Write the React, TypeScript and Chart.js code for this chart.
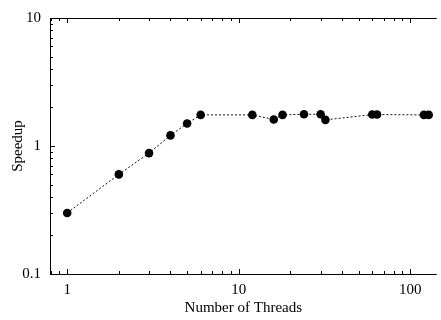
import React, { useEffect, useRef } from "react";
import { Chart, registerables } from "chart.js";

Chart.register(...registerables);

const threads = [1, 2, 3, 4, 5, 6, 12, 16, 18, 24, 30, 32, 60, 64, 120, 128];
const speedup = [0.3, 0.6, 0.88, 1.21, 1.5, 1.75, 1.75, 1.61, 1.75, 1.77, 1.77, 1.6, 1.76, 1.76, 1.75, 1.75];
const xTickValues = [1, 10, 100];
const yTickValues = [0.1, 1, 10];

const FONT = "'Liberation Serif', 'Times New Roman', serif";

const tickPlugin = {
  id: "inwardTicks",
  afterDraw(chart: any) {
    const ctx = chart.ctx;
    const { left, right, top, bottom } = chart.chartArea;
    const xs = chart.scales.x;
    const ys = chart.scales.y;
    ctx.save();
    ctx.strokeStyle = "#000";
    ctx.lineWidth = 1;
    ctx.beginPath();
    ctx.moveTo(Math.round(left) + 0.5, Math.round(top) + 0.5);
    ctx.lineTo(right, Math.round(top) + 0.5);
    ctx.moveTo(Math.round(left) + 0.5, Math.round(top) + 0.5);
    ctx.lineTo(Math.round(left) + 0.5, Math.round(bottom) + 0.5);
    ctx.lineTo(right, Math.round(bottom) + 0.5);
    ctx.stroke();
    ctx.beginPath();
    for (let d = -1; d <= 2; d++) {
      for (let m = 1; m <= 9; m++) {
        const v = m * Math.pow(10, d);
        const len = m === 1 ? 5 : 3;
        if (v >= xs.min && v <= xs.max) {
          const px = Math.round(xs.getPixelForValue(v)) + 0.5;
          ctx.moveTo(px, bottom);
          ctx.lineTo(px, bottom - len);
          ctx.moveTo(px, top);
          ctx.lineTo(px, top + len);
        }
        if (v >= ys.min && v <= ys.max) {
          const py = Math.round(ys.getPixelForValue(v)) + 0.5;
          ctx.moveTo(left, py);
          ctx.lineTo(left + len, py);
        }
      }
    }
    ctx.stroke();
    ctx.restore();
  },
};

export default function App() {
  const ref = useRef<HTMLCanvasElement | null>(null);
  useEffect(() => {
    document.body.style.margin = "0";
    const canvas = ref.current!;
    const chart = new Chart(canvas, {
      type: "line",
      data: {
        datasets: [
          {
            data: threads.map((t, i) => ({ x: t, y: speedup[i] })),
            borderColor: "#111",
            borderWidth: 1,
            borderDash: [2, 2],
            backgroundColor: "#000",
            pointBackgroundColor: "#000",
            pointBorderColor: "#000",
            pointRadius: 4.3,
            pointBorderWidth: 0,
            tension: 0,
          },
        ],
      },
      options: {
        animation: false,
        responsive: false,
        layout: { padding: { top: 14, right: 0, left: 0, bottom: 0 } },
        plugins: { legend: { display: false }, tooltip: { enabled: false } },
        scales: {
          x: {
            type: "logarithmic",
            min: 0.794,
            max: 142.5,
            border: { display: false },
            grid: { display: false, drawTicks: false },
            afterBuildTicks: (s: any) => {
              s.ticks = xTickValues.map((v) => ({ value: v }));
            },
            afterFit: (s: any) => {
              s.height = 46;
            },
            ticks: {
              autoSkip: false,
              maxRotation: 0,
              padding: 7,
              color: "#000",
              font: { family: FONT, size: 15 },
              callback: (v: any) => String(v),
            },
            title: {
              display: true,
              text: "Number of Threads",
              color: "#000",
              font: { family: FONT, size: 15 },
              padding: { top: 0, bottom: 3 },
            },
          },
          y: {
            type: "logarithmic",
            min: 0.1,
            max: 10,
            border: { display: false },
            grid: { display: false, drawTicks: false },
            afterBuildTicks: (s: any) => {
              s.ticks = yTickValues.map((v) => ({ value: v }));
            },
            afterFit: (s: any) => {
              s.width = 50;
            },
            ticks: {
              autoSkip: false,
              padding: 9,
              color: "#000",
              font: { family: FONT, size: 15 },
              callback: (v: any) => String(v),
            },
            title: {
              display: true,
              text: "Speedup",
              color: "#000",
              font: { family: FONT, size: 15 },
              padding: { top: 9, bottom: 0 },
            },
          },
        },
      },
      plugins: [tickPlugin],
    });
    return () => chart.destroy();
  }, []);
  return <canvas ref={ref} width={441} height={320} style={{ display: "block" }} />;
}
